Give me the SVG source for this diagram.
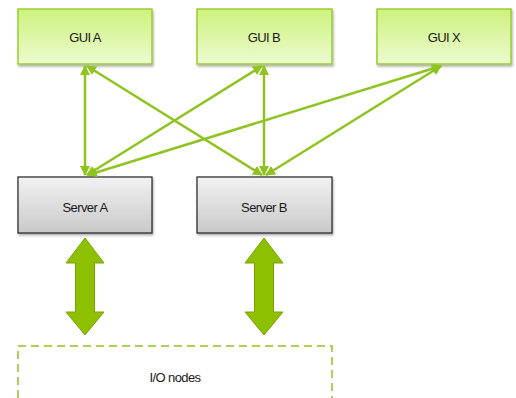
<svg xmlns="http://www.w3.org/2000/svg" width="516" height="398" viewBox="0 0 516 398">
<defs>
<linearGradient id="gg" x1="0" y1="0" x2="0" y2="1"><stop offset="0" stop-color="#cdf27c"/><stop offset="1" stop-color="#ecfbd0"/></linearGradient>
<linearGradient id="sg" x1="0" y1="0" x2="0" y2="1"><stop offset="0" stop-color="#f2f2f2"/><stop offset="1" stop-color="#c9c9c9"/></linearGradient>
<filter id="sh" x="-10%" y="-10%" width="130%" height="140%"><feDropShadow dx="1" dy="2" stdDeviation="1.2" flood-color="#000" flood-opacity="0.3"/></filter>
<marker id="ah" viewBox="0 0 10 10" refX="9" refY="5" markerWidth="4" markerHeight="4" orient="auto-start-reverse" markerUnits="strokeWidth"><path d="M0,0 L10,5 L0,10 z" fill="#8fc31f"/></marker>
</defs>
<style>
.gui{fill:url(#gg);stroke:#9acd32;stroke-width:1.5}
.srv{fill:url(#sg);stroke:#222;stroke-width:1.2}
.t{font-family:"Liberation Sans",Arial,sans-serif;font-size:13px;fill:#1a1a1a;text-anchor:middle;letter-spacing:-0.6px}
.c{stroke:#8fc31f;stroke-width:2.5;fill:none;marker-start:url(#ah);marker-end:url(#ah)}
.fat{fill:#8dc000;stroke:#7aa300;stroke-width:1}
</style>
<g id="gui-a"><rect class="gui" x="18" y="9" width="134" height="55" filter="url(#sh)"/><text class="t" x="85" y="42">GUI A</text></g>
<g id="gui-b"><rect class="gui" x="197" y="9" width="135" height="55" filter="url(#sh)"/><text class="t" x="264" y="42">GUI B</text></g>
<g id="gui-x"><rect class="gui" x="377" y="9" width="134" height="55" filter="url(#sh)"/><text class="t" x="444" y="42">GUI X</text></g>
<g id="server-a"><rect class="srv" x="18" y="177" width="134" height="56" filter="url(#sh)"/><text class="t" x="85" y="212">Server A</text></g>
<g id="server-b"><rect class="srv" x="197" y="177" width="135" height="56" filter="url(#sh)"/><text class="t" x="264" y="212">Server B</text></g>
<g id="io-nodes"><path d="M18,398 L18,346 L332,346 L332,398" fill="none" stroke="#8fc31f" stroke-width="1.5" stroke-dasharray="8,5"/><text class="t" x="175" y="382">I/O nodes</text></g>
<g id="connectors">
<line class="c" x1="85" y1="66" x2="85" y2="175"/>
<line class="c" x1="87" y1="66" x2="262" y2="175"/>
<line class="c" x1="262" y1="66" x2="87" y2="175"/>
<line class="c" x1="264" y1="66" x2="264" y2="175"/>
<line class="c" x1="441" y1="66" x2="88" y2="175"/>
<line class="c" x1="441" y1="66" x2="266" y2="175"/>
<path class="fat" d="M85,238 L104,263 L94.5,263 L94.5,312 L104,312 L85,335 L66,312 L75.5,312 L75.5,263 L66,263 z"/>
<path class="fat" d="M264,238 L283,263 L273.5,263 L273.5,312 L283,312 L264,335 L245,312 L254.5,312 L254.5,263 L245,263 z"/>
</g>
</svg>
